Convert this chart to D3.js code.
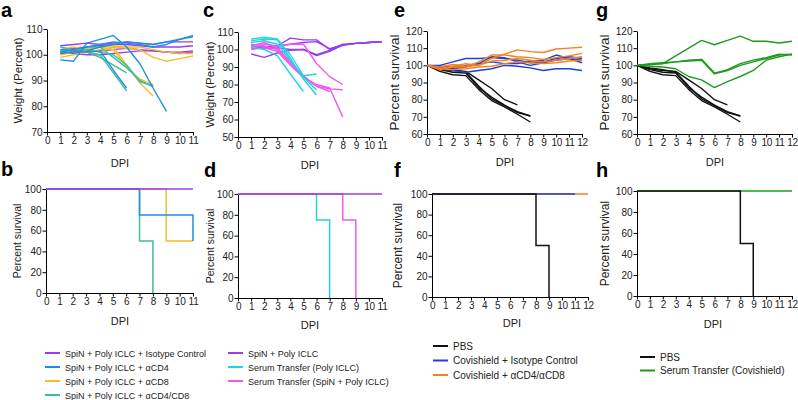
<!DOCTYPE html>
<html><head><meta charset="utf-8">
<script src="https://cdn.jsdelivr.net/npm/d3@7"></script>
<style>body{margin:0;background:#fff}svg{display:block}text{font-family:"Liberation Sans",Arial,sans-serif}</style>
</head><body><svg id="chart" width="798" height="400"></svg>
<script>
// ---------------- DATA ----------------
const xTicks11 = [0,1,2,3,4,5,6,7,8,9,10,11];
const xTicks12 = [0,1,2,3,4,5,6,7,8,9,10,11,12];
const yTicksA = [70,80,90,100,110];
const yTicksC = [50,60,70,80,90,100,110];
const yTicksEG = [60,70,80,90,100,110,120];
const yTicksSurv = [0,20,40,60,80,100];

// Panel a: weight, DPI 1..11
const daysA = [1,2,3,4,5,6,7,8,9,10,11];
const aIsotype = [
  [103.5,104,104.5,104,104.5,105,104.5,104,105,105,105],
  [102,102.5,103,103.5,104,104,103.5,103,103,103,103.5],
  [100.5,101,101,101.5,102,102.5,102,101.5,101,101,101.5],
  [101,100.5,100,100,100.5,101,101.5,101.5,101,100.5,101]
];
const aCD4 = [
  [98,97.5,104.5,106,107.5,103,96.5,87,78],
  [102,101.5,101,101.5,94,87],
  [101,102,103,104,105,104.5,104,103,104,106,107.5],
  [100.5,101,101.5,103,104,105,104.5,104,105,106,107]
];
const aCD8 = [
  [102,103,102,101,103,96,89,84],
  [101,102,102.5,103,102,95,90.5,88.5],
  [99,100,101,102,103,102.5,102,99,97.5,98.5,99.5],
  [100,101,102,103,103.5,103,103,102,101,100.5,100.5]
];
const aCD48 = [
  [103,102,101,100,93,86],
  [102,101.5,101,99,96,93],
  [101,102,102,101,100,96,89.5,88],
  [102,101,103,103,99,95,90,87.5]
];

// Panel b: survival (time, percent)
const bIsoT = [0,11],   bIsoS = [100,100];
const bCD4T = [0,7,11], bCD4S = [100,75,50];
const bCD8T = [0,9,11], bCD8S = [100,50,50];
const bCD48T = [0,7,8], bCD48S = [100,50,0];

// Panel c: weight, DPI 1..11
const daysC = [1,2,3,4,5,6,7,8,9,10,11];
const cSpin = [
  [101,101,102,106.5,105.5,105.5,100,103,103.5,104,104.5],
  [97.5,95.5,98,99.5,100,96.5,99,102.5,103.5,104,104.5],
  [101.5,101.5,102,103,104,104.5,100.5,102.5,103.5,104,104.5],
  [101,100.5,101,100,100,97,99.5,102.5,103.5,104,104.5]
];
const cSerPoly = [
  [101.5,100,96.5,86,76],
  [106,107,106,97,85,86],
  [105,106,105.5,95,83,74],
  [104,105,103,94,84,77]
];
const cSerSpin = [
  [101,103,102,103,103,92,84.5,80],
  [102,104,101,93,85,79,77.5,77],
  [103,102,100,92,84,80,78,61.5],
  [100,101,99,91,84,79,76]
];

// Panel d: survival
const dSpinT = [0,11],   dSpinS = [100,100];
const dSerPolyT = [0,6,7], dSerPolyS = [100,75,0];
const dSerSpinT = [0,8,9], dSerSpinS = [100,75,0];

// Panel e: weight, DPI 0..12
const daysE = [0,1,2,3,4,5,6,7,8,9,10,11,12];
const ePBS = [
  [100,98,97,96.5,91.5,86.5,80,77],
  [100,97.5,96,95.5,87,81.5,76.8,73,70.5],
  [100,96.5,94.5,94,86,79.5,75.8,71.5,67],
  [100,98.5,97.5,96,88,80.5,76.5,72.5,70.5]
];
const eIso = [
  [100,100,102,104,104,104.5,104,103,101.5,102,104,105,104],
  [100,99.5,98,99,101,105,104.5,102,100,101.5,103,104,101.5],
  [100,99,97,96,97,98,100,99.5,98.5,97,98,98,97],
  [100,99.5,99,100,101,102,101,101,102.5,103,106,104,103]
];
const eCD = [
  [100,98,99.5,101,100,104,106.5,109,108,107.5,109.5,110,110.5],
  [100,97.5,99,99,102,106,106,105,104.5,103.5,104.5,105.5,107],
  [100,99,100.5,99.5,100,102.5,103,104,103,102,103,104,105],
  [100,98,97.5,98,99,99.5,101,102,101.5,101,101.5,102.5,103]
];

// Panel f: survival
const fPBST = [0,8,9], fPBSS = [100,50,0];
const fIsoT = [0,11],  fIsoS = [100,100];
const fCDT = [0,12],   fCDS = [100,100];

// Panel g: weight, DPI 0..12
const daysG = [0,1,2,3,4,5,6,7,8,9,10,11,12];
const gPBS = [
  [100,98,97,96.5,91.5,86.5,80,77],
  [100,97.5,96,95.5,87,81.5,76.8,73,70.5],
  [100,96.5,94.5,94,86,79.5,75.8,71.5,67],
  [100,98.5,97.5,96,88,80.5,76.5,72.5,70.5]
];
const gSer = [
  [100,100.5,101,105.5,110,114.5,112,114.5,117,114,114,113,114],
  [100,101,101.5,102,103,103.5,95.5,97.5,101,103,104.5,106.5,106],
  [100,100.5,101,102,102.5,103,95,97,100,102,104,106,106.5],
  [100,99.5,99,98,93.5,91.5,87,90.5,93.5,97,103,105,106.5]
];

// Panel h: survival
const hPBST = [0,8,9], hPBSS = [100,50,0];
const hSerT = [0,12],  hSerS = [100,100];

// Legends
const legendAB = ["SpiN + Poly ICLC + Isotype Control","SpiN + Poly ICLC + \u03b1CD4","SpiN + Poly ICLC + \u03b1CD8","SpiN + Poly ICLC + \u03b1CD4/CD8"];
const legendCD = ["SpiN + Poly ICLC","Serum Transfer (Poly ICLC)","Serum Transfer (SpiN + Poly ICLC)"];
const legendEF = ["PBS","Covishield + Isotype Control","Covishield + \u03b1CD4/\u03b1CD8"];
const legendGH = ["PBS","Serum Transfer (Covishield)"];

// ---------------- STYLE ----------------
const C = {
  purple:"#9b3cf0", blue:"#1f8fe0", yellow:"#f8bb2a", teal:"#3dbf9c",
  cyan:"#1ed6dc", magenta:"#ee5aee", black:"#111111", eblue:"#1f3fdc",
  orange:"#f5811f", green:"#1f9a1f"
};

const svg = d3.select("#chart");

function drawPanel(p){
  const g = svg.append("g");
  const x = d3.scaleLinear().domain(p.xDomain).range([p.x0,p.x1]);
  const y = d3.scaleLinear().domain(p.yDomain).range([p.yb,p.yt]);
  const ax = g.append("g").attr("transform",`translate(0,${p.yb})`)
    .call(d3.axisBottom(x).tickValues(p.xTicks).tickSize(3.5).tickSizeOuter(0).tickPadding(1.5).tickFormat(d3.format("d")));
  const ay = g.append("g").attr("transform",`translate(${p.x0},0)`)
    .call(d3.axisLeft(y).tickValues(p.yTicks).tickSize(3.5).tickSizeOuter(0).tickPadding(1).tickFormat(d3.format("d")));
  [ax,ay].forEach(a=>{
    a.selectAll("path,line").attr("stroke","#000").attr("stroke-width",1);
    a.selectAll("text").attr("font-size",p.tickFs||10).attr("fill","#222")
      .attr("font-family",'"Liberation Sans",Arial,sans-serif');
  });
  ax.selectAll("text").attr("letter-spacing",-0.3);
  // titles
  g.append("text").attr("x",p.dpiX).attr("y",p.dpiY).attr("text-anchor","middle")
    .attr("font-size",11).attr("fill","#222").text("DPI");
  g.append("text").attr("transform",`translate(${p.ytX},${(p.yb+p.yt)/2}) rotate(-90)`)
    .attr("text-anchor","middle").attr("font-size",p.ytFs).attr("fill","#222").text(p.yTitle);
  g.append("text").attr("x",p.lx).attr("y",p.ly).attr("font-size",20).attr("font-weight","bold")
    .attr("fill","#000").text(p.letter);
  // data
  const marks = g.append("g");
  if (p.weights){
    const line = d3.line().x(d=>x(d[0])).y(d=>y(d[1]));
    p.weights.forEach(grp=>{
      grp.series.forEach(s=>{
        const pts = s.map((v,i)=>[grp.days[i],v]);
        marks.append("path").attr("d",line(pts)).attr("fill","none")
          .attr("stroke",grp.color).attr("stroke-width",1.4).attr("stroke-linejoin","round");
      });
    });
  }
  if (p.surv){
    const line = d3.line().x(d=>x(d[0])).y(d=>y(d[1])).curve(d3.curveStepAfter);
    p.surv.forEach(s=>{
      const pts = s.t.map((t,i)=>[t,s.s[i]]);
      marks.append("path").attr("d",line(pts)).attr("fill","none")
        .attr("stroke",s.color).attr("stroke-width",1.5);
    });
  }
}

function legend(items, colors, x, y0, dy, fs){
  items.forEach((t,i)=>{
    const yy = y0 + i*dy;
    svg.append("line").attr("x1",x).attr("x2",x+15).attr("y1",yy).attr("y2",yy)
      .attr("stroke",colors[i]).attr("stroke-width",2);
    svg.append("text").attr("x",x+20).attr("y",yy+3.5).attr("font-size",fs).attr("fill","#222").text(t);
  });
}

// Panel a
drawPanel({letter:"a",lx:1,ly:17,xDomain:[0,11],x0:47,x1:193,yDomain:[70,110],yb:132,yt:29,
  xTicks:xTicks11,yTicks:yTicksA,dpiX:120,dpiY:167,ytX:22,ytFs:11.5,yTitle:"Weight (Percent)",
  weights:[{days:daysA,series:aIsotype,color:C.purple},{days:daysA,series:aCD8,color:C.yellow},
           {days:daysA,series:aCD48,color:C.teal},{days:daysA,series:aCD4,color:C.blue}]});
// Panel b
drawPanel({letter:"b",lx:1,ly:176,xDomain:[0,11],x0:46,x1:193,yDomain:[0,100],yb:293,yt:189,
  xTicks:xTicks11,yTicks:yTicksSurv,dpiX:120,dpiY:325,ytX:21,ytFs:10.5,yTitle:"Percent survival",
  surv:[{t:bCD48T,s:bCD48S,color:C.teal},{t:bCD8T,s:bCD8S,color:C.yellow},
        {t:bCD4T,s:bCD4S,color:C.blue},{t:bIsoT,s:bIsoS,color:C.purple}]});
// Panel c
drawPanel({letter:"c",lx:203,ly:17,xDomain:[0,11],x0:238,x1:382,yDomain:[50,110],yb:137,yt:32,
  xTicks:xTicks11,yTicks:yTicksC,dpiX:310,dpiY:169,ytX:214,ytFs:11.5,yTitle:"Weight (Percent)",
  weights:[{days:daysC,series:cSpin,color:C.purple},{days:daysC,series:cSerSpin,color:C.magenta},
           {days:daysC,series:cSerPoly,color:C.cyan}]});
// Panel d
drawPanel({letter:"d",lx:204,ly:177,xDomain:[0,11],x0:238,x1:382,yDomain:[0,100],yb:298,yt:194,
  xTicks:xTicks11,yTicks:yTicksSurv,dpiX:310,dpiY:329,ytX:214,ytFs:10.5,yTitle:"Percent survival",
  surv:[{t:dSerPolyT,s:dSerPolyS,color:C.cyan},{t:dSerSpinT,s:dSerSpinS,color:C.magenta},
        {t:dSpinT,s:dSpinS,color:C.purple}]});
// Panel e
drawPanel({letter:"e",lx:394,ly:17,xDomain:[0,12],x0:427,x1:582,yDomain:[60,120],yb:134,yt:31,
  xTicks:xTicks12,yTicks:yTicksEG,dpiX:505,dpiY:166,ytX:399,ytFs:13.5,yTitle:"Percent survival",
  weights:[{days:daysE,series:ePBS,color:C.black},{days:daysE,series:eIso,color:C.eblue},
           {days:daysE,series:eCD,color:C.orange}]});
// Panel f
drawPanel({letter:"f",lx:394,ly:177,xDomain:[0,12],x0:432,x1:588,yDomain:[0,100],yb:297,yt:194,
  xTicks:xTicks12,yTicks:yTicksSurv,dpiX:512,dpiY:327,ytX:402,ytFs:12,yTitle:"Percent survival",
  surv:[{t:fCDT,s:fCDS,color:C.orange},{t:fIsoT,s:fIsoS,color:C.eblue},{t:fPBST,s:fPBSS,color:C.black}]});
// Panel g
drawPanel({letter:"g",lx:596,ly:17,xDomain:[0,12],x0:637,x1:792,yDomain:[60,120],yb:134,yt:31,
  xTicks:xTicks12,yTicks:yTicksEG,dpiX:715,dpiY:166,ytX:609,ytFs:13.5,yTitle:"Percent survival",
  weights:[{days:daysG,series:gPBS,color:C.black},{days:daysG,series:gSer,color:C.green}]});
// Panel h
drawPanel({letter:"h",lx:596,ly:177,xDomain:[0,12],x0:637,x1:792,yDomain:[0,100],yb:296,yt:191,
  xTicks:xTicks12,yTicks:yTicksSurv,dpiX:713,dpiY:328,ytX:609,ytFs:12,yTitle:"Percent survival",
  surv:[{t:hSerT,s:hSerS,color:C.green},{t:hPBST,s:hPBSS,color:C.black}]});

legend(legendAB,[C.purple,C.blue,C.yellow,C.teal],45,353,14,9);
legend(legendCD,[C.purple,C.cyan,C.magenta],228,353,14,9);
legend(legendEF,[C.black,C.eblue,C.orange],433,346,14.5,10);
legend(legendGH,[C.black,C.green],640,357,13.5,10);
</script></body></html>
